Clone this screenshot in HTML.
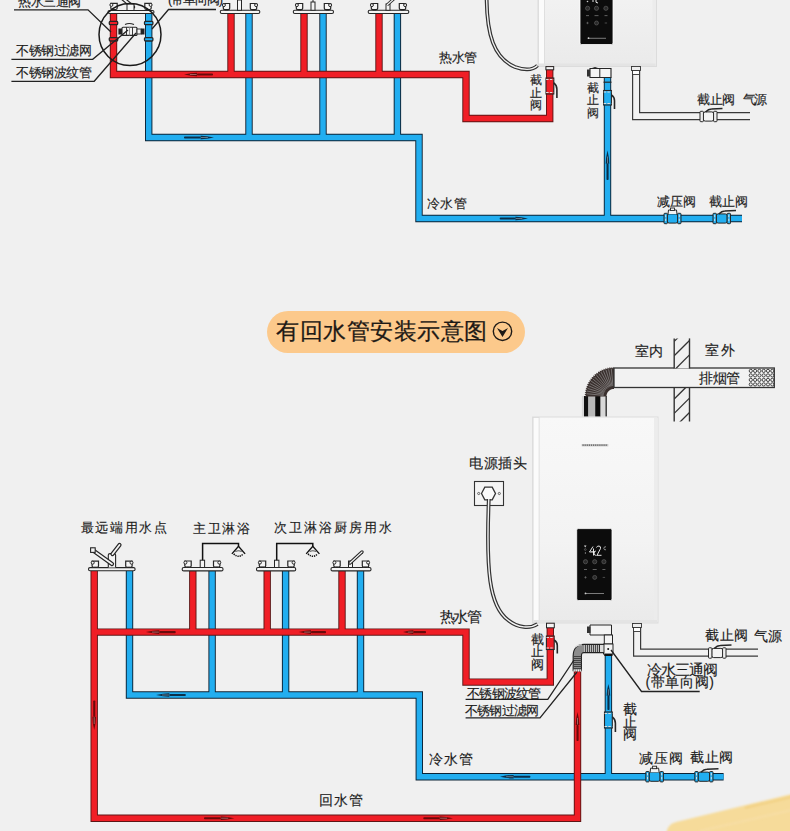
<!DOCTYPE html><html><head><meta charset="utf-8"><style>html,body{margin:0;padding:0;background:#f0f0f0;}svg{display:block;font-family:"Liberation Sans",sans-serif;}</style></head><body><svg width="790" height="831" viewBox="0 0 790 831" font-family="Liberation Sans, sans-serif">
<rect width="790" height="831" fill="#f0f0f0"/>
<defs><linearGradient id="hg" x1="0" x2="0" y1="0" y2="1"><stop offset="0" stop-color="#f8f8f8"/><stop offset="0.6" stop-color="#f3f3f3"/><stop offset="1" stop-color="#eaeaea"/></linearGradient></defs>
<rect x="538.0" y="-140.0" width="118.5" height="206.5" fill="url(#hg)" stroke="#dcdcdc" stroke-width="1"/>
<rect x="538.5" y="-139.5" width="6.0" height="205.5" fill="#fbfbfb" stroke="#d9d9d9" stroke-width="0.8"/>
<rect x="652.5" y="-139.0" width="3.5" height="204.5" fill="#ececec"/>
<rect x="539.0" y="63.5" width="116.5" height="2.5" fill="#e4e4e4"/>
<rect x="580.0" y="-20.0" width="33.0" height="64.5" rx="1.5" fill="#0c0c0c" stroke="#ffffff" stroke-width="0.8"/>
<circle cx="587.6" cy="8.3" r="2.1" fill="#2a2a2a" stroke="#666" stroke-width="0.6"/>
<circle cx="596.5" cy="8.3" r="2.1" fill="#2a2a2a" stroke="#666" stroke-width="0.6"/>
<circle cx="605.9" cy="8.3" r="2.1" fill="#2a2a2a" stroke="#666" stroke-width="0.6"/>
<rect x="586" y="15.3" width="3" height="0.8" fill="#777"/><rect x="594.5" y="15.3" width="4" height="0.8" fill="#777"/><rect x="604.5" y="15.3" width="3" height="0.8" fill="#777"/>
<circle cx="596.5" cy="23" r="2" fill="#2a2a2a" stroke="#666" stroke-width="0.6"/>
<path d="M586.3,23 L588.7,23 M587.5,21.8 L587.5,24.2 M604.7,23 L607.1,23" stroke="#777" stroke-width="0.6"/>
<rect x="588" y="37.8" width="18" height="0.9" fill="#888"/><circle cx="588.5" cy="38.2" r="0.9" fill="#ccc"/>
<path d="M593,-1 L593,2 M596,0 Q595,3 598,3" fill="none" stroke="#fff" stroke-width="0.9"/>
<circle cx="587.5" cy="1.5" r="0.8" fill="#ccc"/>
<rect x="532.6" y="417.0" width="125.4" height="206.0" fill="url(#hg)" stroke="#dcdcdc" stroke-width="1"/>
<rect x="533.1" y="417.5" width="6.0" height="205.0" fill="#fbfbfb" stroke="#d9d9d9" stroke-width="0.8"/>
<rect x="654.0" y="418.0" width="3.5" height="204.0" fill="#ececec"/>
<rect x="533.6" y="620.0" width="123.4" height="2.5" fill="#e4e4e4"/>
<rect x="576.7" y="528.6" width="35.3" height="71.9" rx="1.5" fill="#0c0c0c" stroke="#ffffff" stroke-width="0.8"/>
<rect x="581.7" y="444" width="26.6" height="2.4" fill="#c8c8c8"/>
<path d="M582.5,445.2 L607.5,445.2" stroke="#555" stroke-width="1.3" stroke-dasharray="1.2,0.9"/>
<path d="M593,546.5 L589.5,552 L595,552 M593.5,548.5 L593.5,555.5" fill="none" stroke="#fff" stroke-width="0.9"/>
<path d="M596.5,547.5 Q597,546 599,546 Q601,546.3 600.5,548.5 L597,555.3 L601.5,555.3" fill="none" stroke="#fff" stroke-width="0.9"/>
<path d="M606,546.8 Q604,546.3 603.8,548.3 Q604,550.2 606,549.8" fill="none" stroke="#ddd" stroke-width="0.6"/>
<path d="M591.5,551.5 L592.5,551.5 M596,551 Q594,551 594,553 Q594,555.5 596.5,555.5" fill="none" stroke="#fff" stroke-width="0.8"/>
<path d="M584,545.5 L586.5,545.5 L585.2,547.5 Z" fill="#ddd"/><circle cx="585.3" cy="549.5" r="0.9" fill="none" stroke="#888" stroke-width="0.5"/><rect x="584.9" y="552" width="0.8" height="2" fill="#888"/>
<circle cx="585.5" cy="561.7" r="2.1" fill="#2a2a2a" stroke="#666" stroke-width="0.6"/>
<circle cx="594.7" cy="561.7" r="2.1" fill="#2a2a2a" stroke="#666" stroke-width="0.6"/>
<circle cx="603.9" cy="561.7" r="2.1" fill="#2a2a2a" stroke="#666" stroke-width="0.6"/>
<rect x="584" y="569.2" width="3" height="0.8" fill="#777"/><rect x="592.7" y="569.2" width="4" height="0.8" fill="#777"/><rect x="602.4" y="569.2" width="3" height="0.8" fill="#777"/>
<circle cx="594.7" cy="577.4" r="2" fill="#2a2a2a" stroke="#666" stroke-width="0.6"/>
<path d="M584.3,577.4 L586.7,577.4 M585.5,576.2 L585.5,578.6 M602.7,577.4 L605.1,577.4" stroke="#777" stroke-width="0.6"/>
<rect x="585" y="593" width="19" height="0.9" fill="#888"/><circle cx="585.5" cy="593.4" r="0.9" fill="#ccc"/>
<rect x="581.9" y="396" width="2.1" height="20.4" fill="#d8d8d8"/>
<rect x="584.0" y="396" width="4.4" height="20.4" fill="#111"/>
<rect x="588.4" y="396" width="6.8" height="20.4" fill="#b8b8b8"/>
<rect x="595.2" y="396" width="5.4" height="20.4" fill="#0a0a0a"/>
<rect x="600.6" y="396" width="4.8" height="20.4" fill="#d8d8d8"/>
<rect x="605.4" y="396" width="1.6" height="20.4" fill="#444"/>
<path d="M584.40,396.40 L586.02,395.40 L584.48,394.29 L586.16,393.41 L584.70,392.19 L586.44,391.43 L585.08,390.11 L586.87,389.48 L585.60,388.06 L587.43,387.56 L586.27,386.06 L588.13,385.68 L587.07,384.10 L588.96,383.87 L588.02,382.21 L589.92,382.11 L589.10,380.40 L591.00,380.43 L590.30,378.66 L592.20,378.83 L591.63,377.02 L593.51,377.32 L593.07,375.47 L594.92,375.91 L594.62,374.03 L596.43,374.60 L596.26,372.70 L598.03,373.40 L598.00,371.50 L599.71,372.32 L599.81,370.42 L601.47,371.36 L601.70,369.47 L603.28,370.53 L603.66,368.67 L605.16,369.83 L605.66,368.00 L607.08,369.27 L607.71,367.48 L609.03,368.84 L609.79,367.10 L611.01,368.56 L611.89,366.88 L613.00,368.42 L614.00,366.80 L614.00,388.90 L613.73,388.90 L613.46,388.92 L613.20,388.94 L612.93,388.98 L612.67,389.02 L612.41,389.07 L612.15,389.13 L611.89,389.20 L611.63,389.28 L611.38,389.37 L611.13,389.47 L610.88,389.58 L610.64,389.69 L610.41,389.82 L610.17,389.95 L609.95,390.09 L609.72,390.24 L609.51,390.40 L609.29,390.56 L609.09,390.73 L608.89,390.91 L608.70,391.10 L608.51,391.29 L608.33,391.49 L608.16,391.69 L608.00,391.91 L607.84,392.12 L607.69,392.35 L607.55,392.57 L607.42,392.81 L607.29,393.04 L607.18,393.28 L607.07,393.53 L606.97,393.78 L606.88,394.03 L606.80,394.29 L606.73,394.55 L606.67,394.81 L606.62,395.07 L606.58,395.33 L606.54,395.60 L606.52,395.86 L606.50,396.13 L606.50,396.40 Z" fill="#3a302e"/>
<line x1="603.6" y1="395.4" x2="586.5" y2="393.7" stroke="#a0a0a0" stroke-width="0.6"/>
<line x1="603.7" y1="394.4" x2="586.9" y2="391.0" stroke="#a0a0a0" stroke-width="0.6"/>
<line x1="604.0" y1="393.4" x2="587.6" y2="388.4" stroke="#a0a0a0" stroke-width="0.6"/>
<line x1="604.3" y1="392.4" x2="588.5" y2="385.8" stroke="#a0a0a0" stroke-width="0.6"/>
<line x1="604.7" y1="391.5" x2="589.7" y2="383.4" stroke="#a0a0a0" stroke-width="0.6"/>
<line x1="605.3" y1="390.6" x2="591.1" y2="381.1" stroke="#a0a0a0" stroke-width="0.6"/>
<line x1="605.9" y1="389.7" x2="592.7" y2="378.9" stroke="#a0a0a0" stroke-width="0.6"/>
<line x1="606.6" y1="389.0" x2="594.5" y2="376.9" stroke="#a0a0a0" stroke-width="0.6"/>
<line x1="607.3" y1="388.3" x2="596.5" y2="375.1" stroke="#a0a0a0" stroke-width="0.6"/>
<line x1="608.2" y1="387.7" x2="598.7" y2="373.5" stroke="#a0a0a0" stroke-width="0.6"/>
<line x1="609.1" y1="387.1" x2="601.0" y2="372.1" stroke="#a0a0a0" stroke-width="0.6"/>
<line x1="610.0" y1="386.7" x2="603.4" y2="370.9" stroke="#a0a0a0" stroke-width="0.6"/>
<line x1="611.0" y1="386.4" x2="606.0" y2="370.0" stroke="#a0a0a0" stroke-width="0.6"/>
<line x1="612.0" y1="386.1" x2="608.6" y2="369.3" stroke="#a0a0a0" stroke-width="0.6"/>
<line x1="613.0" y1="386.0" x2="611.3" y2="368.9" stroke="#a0a0a0" stroke-width="0.6"/>
<rect x="614" y="368" width="160.3" height="19.5" fill="#f2f2f2" stroke="#333" stroke-width="1.3"/>
<circle cx="750.8" cy="370.9" r="1.6" fill="none" stroke="#333" stroke-width="0.9"/>
<circle cx="755.1" cy="370.9" r="1.6" fill="none" stroke="#333" stroke-width="0.9"/>
<circle cx="759.4" cy="370.9" r="1.6" fill="none" stroke="#333" stroke-width="0.9"/>
<circle cx="763.7" cy="370.9" r="1.6" fill="none" stroke="#333" stroke-width="0.9"/>
<circle cx="768.0" cy="370.9" r="1.6" fill="none" stroke="#333" stroke-width="0.9"/>
<circle cx="772.3" cy="370.9" r="1.6" fill="none" stroke="#333" stroke-width="0.9"/>
<circle cx="750.8" cy="375.4" r="1.6" fill="none" stroke="#333" stroke-width="0.9"/>
<circle cx="755.1" cy="375.4" r="1.6" fill="none" stroke="#333" stroke-width="0.9"/>
<circle cx="759.4" cy="375.4" r="1.6" fill="none" stroke="#333" stroke-width="0.9"/>
<circle cx="763.7" cy="375.4" r="1.6" fill="none" stroke="#333" stroke-width="0.9"/>
<circle cx="768.0" cy="375.4" r="1.6" fill="none" stroke="#333" stroke-width="0.9"/>
<circle cx="772.3" cy="375.4" r="1.6" fill="none" stroke="#333" stroke-width="0.9"/>
<circle cx="750.8" cy="379.9" r="1.6" fill="none" stroke="#333" stroke-width="0.9"/>
<circle cx="755.1" cy="379.9" r="1.6" fill="none" stroke="#333" stroke-width="0.9"/>
<circle cx="759.4" cy="379.9" r="1.6" fill="none" stroke="#333" stroke-width="0.9"/>
<circle cx="763.7" cy="379.9" r="1.6" fill="none" stroke="#333" stroke-width="0.9"/>
<circle cx="768.0" cy="379.9" r="1.6" fill="none" stroke="#333" stroke-width="0.9"/>
<circle cx="772.3" cy="379.9" r="1.6" fill="none" stroke="#333" stroke-width="0.9"/>
<circle cx="750.8" cy="384.4" r="1.6" fill="none" stroke="#333" stroke-width="0.9"/>
<circle cx="755.1" cy="384.4" r="1.6" fill="none" stroke="#333" stroke-width="0.9"/>
<circle cx="759.4" cy="384.4" r="1.6" fill="none" stroke="#333" stroke-width="0.9"/>
<circle cx="763.7" cy="384.4" r="1.6" fill="none" stroke="#333" stroke-width="0.9"/>
<circle cx="768.0" cy="384.4" r="1.6" fill="none" stroke="#333" stroke-width="0.9"/>
<circle cx="772.3" cy="384.4" r="1.6" fill="none" stroke="#333" stroke-width="0.9"/>
<rect x="674.2" y="338.4" width="15.3" height="30" fill="#f0f0f0"/>
<line x1="674.2" y1="338.4" x2="674.2" y2="368.5" stroke="#333" stroke-width="1.4"/><line x1="689.5" y1="338.4" x2="689.5" y2="368.5" stroke="#333" stroke-width="1.4"/>
<line x1="674.2" y1="388" x2="674.2" y2="421.5" stroke="#333" stroke-width="1.4"/><line x1="689.5" y1="388" x2="689.5" y2="421.5" stroke="#333" stroke-width="1.4"/>
<clipPath id="w1"><rect x="674.2" y="338.4" width="15.3" height="30"/><rect x="674.2" y="388" width="15.3" height="33.5"/></clipPath>
<g clip-path="url(#w1)">
<line x1="674.2" y1="327.0" x2="689.5" y2="311.7" stroke="#333" stroke-width="1.3"/>
<line x1="674.2" y1="341.4" x2="689.5" y2="326.1" stroke="#333" stroke-width="1.3"/>
<line x1="674.2" y1="355.8" x2="689.5" y2="340.5" stroke="#333" stroke-width="1.3"/>
<line x1="674.2" y1="370.2" x2="689.5" y2="354.9" stroke="#333" stroke-width="1.3"/>
<line x1="674.2" y1="384.6" x2="689.5" y2="369.3" stroke="#333" stroke-width="1.3"/>
<line x1="674.2" y1="399.0" x2="689.5" y2="383.7" stroke="#333" stroke-width="1.3"/>
<line x1="674.2" y1="413.4" x2="689.5" y2="398.1" stroke="#333" stroke-width="1.3"/>
<line x1="674.2" y1="427.8" x2="689.5" y2="412.5" stroke="#333" stroke-width="1.3"/>
<line x1="674.2" y1="442.2" x2="689.5" y2="426.9" stroke="#333" stroke-width="1.3"/>
</g>
<rect x="474.5" y="481.5" width="29" height="24" fill="#f4f4f4" stroke="#333" stroke-width="1.1"/>
<path d="M481.5,493.5 L484.8,487.2 L492.2,487.2 L495.5,493.5 L492.2,499.8 L484.8,499.8 Z" fill="#fafafa" stroke="#333" stroke-width="1.3"/>
<circle cx="478.7" cy="493.5" r="1.1" fill="none" stroke="#333" stroke-width="0.7"/><circle cx="499.3" cy="493.5" r="1.1" fill="none" stroke="#333" stroke-width="0.7"/>
<path d="M488.8,499 C486,570 489,606 508,620 C518,628 530,629 537.5,624" fill="none" stroke="#333" stroke-width="3.8"/>
<path d="M488.8,499 C486,570 489,606 508,620 C518,628 530,629 537.5,624" fill="none" stroke="#f4f4f4" stroke-width="1.4"/>
<path d="M486.6,-5 C486.5,35 494,58 515,67 C525,70.5 533,70 537.5,65.5" fill="none" stroke="#333" stroke-width="3.8"/>
<path d="M486.6,-5 C486.5,35 494,58 515,67 C525,70.5 533,70 537.5,65.5" fill="none" stroke="#f4f4f4" stroke-width="1.4"/>
<path d="M636.1,66 L636.1,116.2 L750,116.2" fill="none" stroke="#3a3a3a" stroke-width="8.2" stroke-linejoin="miter"/>
<path d="M636.1,66 L636.1,116.2 L750,116.2" fill="none" stroke="#f2f2f2" stroke-width="5.799999999999999" stroke-linejoin="miter"/>
<rect x="631.5" y="66.5" width="9" height="4" fill="#eee" stroke="#333" stroke-width="0.9"/>
<rect x="632.5" y="70.5" width="7" height="4" fill="#fff" stroke="#333" stroke-width="0.9"/>
<rect x="703.2" y="111.9" width="10.6" height="9.2" rx="2" fill="#f4f4f4" stroke="#262626" stroke-width="1"/>
<rect x="700.0" y="111.3" width="3.4" height="10.4" rx="0.8" fill="#f4f4f4" stroke="#262626" stroke-width="1"/>
<line x1="701.7" y1="112.7" x2="701.7" y2="120.3" stroke="#e8e8e8" stroke-width="0.9" stroke-dasharray="2.5,1.5"/>
<rect x="713.6" y="111.3" width="3.4" height="10.4" rx="0.8" fill="#f4f4f4" stroke="#262626" stroke-width="1"/>
<line x1="715.3" y1="112.7" x2="715.3" y2="120.3" stroke="#e8e8e8" stroke-width="0.9" stroke-dasharray="2.5,1.5"/>
<path d="M705.5,112.0 Q708.5,109.0 711.5,109.0 L722.5,108.5" fill="none" stroke="#262626" stroke-width="1.6"/>
<path d="M637.1,623 L637.1,652.6999999999999 L758,652.6999999999999" fill="none" stroke="#3a3a3a" stroke-width="8.2" stroke-linejoin="miter"/>
<path d="M637.1,623 L637.1,652.6999999999999 L758,652.6999999999999" fill="none" stroke="#f2f2f2" stroke-width="5.799999999999999" stroke-linejoin="miter"/>
<rect x="632.5" y="623.5" width="9" height="4" fill="#eee" stroke="#333" stroke-width="0.9"/>
<rect x="633.5" y="627.5" width="7" height="4" fill="#fff" stroke="#333" stroke-width="0.9"/>
<rect x="711.7" y="648.4" width="11.1" height="9.2" rx="2" fill="#f4f4f4" stroke="#262626" stroke-width="1"/>
<rect x="708.5" y="647.8" width="3.4" height="10.4" rx="0.8" fill="#f4f4f4" stroke="#262626" stroke-width="1"/>
<line x1="710.2" y1="649.2" x2="710.2" y2="656.8" stroke="#e8e8e8" stroke-width="0.9" stroke-dasharray="2.5,1.5"/>
<rect x="722.6" y="647.8" width="3.4" height="10.4" rx="0.8" fill="#f4f4f4" stroke="#262626" stroke-width="1"/>
<line x1="724.3" y1="649.2" x2="724.3" y2="656.8" stroke="#e8e8e8" stroke-width="0.9" stroke-dasharray="2.5,1.5"/>
<path d="M714.2,648.5 Q717.2,645.5 720.2,645.5 L731.5,645.0" fill="none" stroke="#262626" stroke-width="1.6"/>
<path d="M148.7,12 L148.7,137.5 L419,137.5 L419,218.5 L742,218.5" fill="none" stroke="#0c2234" stroke-width="7.4" stroke-linejoin="miter" stroke-linecap="butt"/>
<path d="M249,13 L249,137.5" fill="none" stroke="#0c2234" stroke-width="7.4" stroke-linejoin="miter" stroke-linecap="butt"/>
<path d="M323,13 L323,137.5" fill="none" stroke="#0c2234" stroke-width="7.4" stroke-linejoin="miter" stroke-linecap="butt"/>
<path d="M397.4,13 L397.4,137.5" fill="none" stroke="#0c2234" stroke-width="7.4" stroke-linejoin="miter" stroke-linecap="butt"/>
<path d="M607.5,77 L607.5,218.5" fill="none" stroke="#0c2234" stroke-width="7.4" stroke-linejoin="miter" stroke-linecap="butt"/>
<path d="M148.7,12 L148.7,137.5 L419,137.5 L419,218.5 L742,218.5" fill="none" stroke="#22aef0" stroke-width="5.5" stroke-linejoin="miter" stroke-linecap="butt"/>
<path d="M249,13 L249,137.5" fill="none" stroke="#22aef0" stroke-width="5.5" stroke-linejoin="miter" stroke-linecap="butt"/>
<path d="M323,13 L323,137.5" fill="none" stroke="#22aef0" stroke-width="5.5" stroke-linejoin="miter" stroke-linecap="butt"/>
<path d="M397.4,13 L397.4,137.5" fill="none" stroke="#22aef0" stroke-width="5.5" stroke-linejoin="miter" stroke-linecap="butt"/>
<path d="M607.5,77 L607.5,218.5" fill="none" stroke="#22aef0" stroke-width="5.5" stroke-linejoin="miter" stroke-linecap="butt"/>
<path d="M113.5,12 L113.5,74.5 L466,74.5 L466,118.5 L549.7,118.5 L549.7,66" fill="none" stroke="#5e1616" stroke-width="7.4" stroke-linejoin="miter" stroke-linecap="butt"/>
<path d="M231,13 L231,74.5" fill="none" stroke="#5e1616" stroke-width="7.4" stroke-linejoin="miter" stroke-linecap="butt"/>
<path d="M304,13 L304,74.5" fill="none" stroke="#5e1616" stroke-width="7.4" stroke-linejoin="miter" stroke-linecap="butt"/>
<path d="M379,13 L379,74.5" fill="none" stroke="#5e1616" stroke-width="7.4" stroke-linejoin="miter" stroke-linecap="butt"/>
<path d="M113.5,12 L113.5,74.5 L466,74.5 L466,118.5 L549.7,118.5 L549.7,66" fill="none" stroke="#f01e26" stroke-width="5.5" stroke-linejoin="miter" stroke-linecap="butt"/>
<path d="M231,13 L231,74.5" fill="none" stroke="#f01e26" stroke-width="5.5" stroke-linejoin="miter" stroke-linecap="butt"/>
<path d="M304,13 L304,74.5" fill="none" stroke="#f01e26" stroke-width="5.5" stroke-linejoin="miter" stroke-linecap="butt"/>
<path d="M379,13 L379,74.5" fill="none" stroke="#f01e26" stroke-width="5.5" stroke-linejoin="miter" stroke-linecap="butt"/>
<path d="M184.0,74.5 Q191.8,72.6 197.1,72.7 L197.1,76.3 Q191.8,76.4 184.0,74.5 Z" fill="#6a0a0a"/>
<path d="M189.9,74.5 L196.6,74.5" stroke="#ffffff" stroke-opacity="0.45" stroke-width="0.8"/>
<rect x="197.1" y="73.5" width="15.9" height="2.1" rx="0.8" fill="#6a0a0a"/>
<path d="M214.0,137.5 Q205.9,135.6 200.5,135.7 L200.5,139.3 Q205.9,139.4 214.0,137.5 Z" fill="#0a2f4a"/>
<path d="M207.9,137.5 L201.0,137.5" stroke="#ffffff" stroke-opacity="0.45" stroke-width="0.8"/>
<rect x="184.0" y="136.4" width="16.5" height="2.1" rx="0.8" fill="#0a2f4a"/>
<path d="M528.0,218.5 Q520.4,216.6 515.3,216.7 L515.3,220.3 Q520.4,220.4 528.0,218.5 Z" fill="#0a2f4a"/>
<path d="M522.3,218.5 L515.8,218.5" stroke="#ffffff" stroke-opacity="0.45" stroke-width="0.8"/>
<rect x="499.7" y="217.4" width="15.6" height="2.1" rx="0.8" fill="#0a2f4a"/>
<path d="M607.5,150.5 Q605.6,158.5 605.7,163.8 L609.3,163.8 Q609.4,158.5 607.5,150.5 Z" fill="#0a2f4a"/>
<path d="M607.5,156.5 L607.5,163.3" stroke="#ffffff" stroke-opacity="0.45" stroke-width="0.8"/>
<rect x="606.5" y="163.8" width="2.1" height="16.2" rx="0.8" fill="#0a2f4a"/>
<rect x="108.0" y="10.5" width="46.0" height="3.0" rx="1.5" fill="#f4f4f4" stroke="#262626" stroke-width="1.1"/>
<rect x="220.3" y="10.3" width="39.5" height="3.2" rx="1.5" fill="#f4f4f4" stroke="#262626" stroke-width="1.1"/>
<rect x="293.3" y="10.3" width="40.2" height="3.2" rx="1.5" fill="#f4f4f4" stroke="#262626" stroke-width="1.1"/>
<rect x="368.2" y="10.3" width="40.6" height="3.2" rx="1.5" fill="#f4f4f4" stroke="#262626" stroke-width="1.1"/>
<g transform="translate(110.0,2.5) scale(1,1)">
<path d="M0.8,0.8 L7.2,0.8 L7.2,5.6 Q7.2,7 5.8,7 L2.2,7 Q0.8,7 0.8,5.6 Z" fill="#f6f6f6" stroke="#262626" stroke-width="1.2"/>
<circle cx="1.4" cy="2.4" r="1.5" fill="#f6f6f6" stroke="#262626" stroke-width="1"/>
<rect x="2.5" y="6.6" width="3" height="1" fill="#262626"/>
</g>
<g transform="translate(152.0,2.5) scale(-1,1)">
<path d="M0.8,0.8 L7.2,0.8 L7.2,5.6 Q7.2,7 5.8,7 L2.2,7 Q0.8,7 0.8,5.6 Z" fill="#f6f6f6" stroke="#262626" stroke-width="1.2"/>
<circle cx="1.4" cy="2.4" r="1.5" fill="#f6f6f6" stroke="#262626" stroke-width="1"/>
<rect x="2.5" y="6.6" width="3" height="1" fill="#262626"/>
</g>
<g transform="translate(222.5,2.7) scale(1,1)">
<path d="M0.8,0.8 L7.2,0.8 L7.2,5.6 Q7.2,7 5.8,7 L2.2,7 Q0.8,7 0.8,5.6 Z" fill="#f6f6f6" stroke="#262626" stroke-width="1.2"/>
<circle cx="1.4" cy="2.4" r="1.5" fill="#f6f6f6" stroke="#262626" stroke-width="1"/>
<rect x="2.5" y="6.6" width="3" height="1" fill="#262626"/>
</g>
<g transform="translate(257.5,2.7) scale(-1,1)">
<path d="M0.8,0.8 L7.2,0.8 L7.2,5.6 Q7.2,7 5.8,7 L2.2,7 Q0.8,7 0.8,5.6 Z" fill="#f6f6f6" stroke="#262626" stroke-width="1.2"/>
<circle cx="1.4" cy="2.4" r="1.5" fill="#f6f6f6" stroke="#262626" stroke-width="1"/>
<rect x="2.5" y="6.6" width="3" height="1" fill="#262626"/>
</g>
<g transform="translate(295.5,2.7) scale(1,1)">
<path d="M0.8,0.8 L7.2,0.8 L7.2,5.6 Q7.2,7 5.8,7 L2.2,7 Q0.8,7 0.8,5.6 Z" fill="#f6f6f6" stroke="#262626" stroke-width="1.2"/>
<circle cx="1.4" cy="2.4" r="1.5" fill="#f6f6f6" stroke="#262626" stroke-width="1"/>
<rect x="2.5" y="6.6" width="3" height="1" fill="#262626"/>
</g>
<g transform="translate(331.5,2.7) scale(-1,1)">
<path d="M0.8,0.8 L7.2,0.8 L7.2,5.6 Q7.2,7 5.8,7 L2.2,7 Q0.8,7 0.8,5.6 Z" fill="#f6f6f6" stroke="#262626" stroke-width="1.2"/>
<circle cx="1.4" cy="2.4" r="1.5" fill="#f6f6f6" stroke="#262626" stroke-width="1"/>
<rect x="2.5" y="6.6" width="3" height="1" fill="#262626"/>
</g>
<g transform="translate(370.5,2.7) scale(1,1)">
<path d="M0.8,0.8 L7.2,0.8 L7.2,5.6 Q7.2,7 5.8,7 L2.2,7 Q0.8,7 0.8,5.6 Z" fill="#f6f6f6" stroke="#262626" stroke-width="1.2"/>
<circle cx="1.4" cy="2.4" r="1.5" fill="#f6f6f6" stroke="#262626" stroke-width="1"/>
<rect x="2.5" y="6.6" width="3" height="1" fill="#262626"/>
</g>
<g transform="translate(406.5,2.7) scale(-1,1)">
<path d="M0.8,0.8 L7.2,0.8 L7.2,5.6 Q7.2,7 5.8,7 L2.2,7 Q0.8,7 0.8,5.6 Z" fill="#f6f6f6" stroke="#262626" stroke-width="1.2"/>
<circle cx="1.4" cy="2.4" r="1.5" fill="#f6f6f6" stroke="#262626" stroke-width="1"/>
<rect x="2.5" y="6.6" width="3" height="1" fill="#262626"/>
</g>
<rect x="237.5" y="0" width="4" height="10.3" fill="#f4f4f4" stroke="#262626" stroke-width="1"/>
<rect x="311" y="2" width="4" height="8.3" fill="#f4f4f4" stroke="#262626" stroke-width="1"/>
<line x1="313" y1="0" x2="313" y2="2" stroke="#262626" stroke-width="1"/>
<rect x="386" y="4" width="4" height="6.3" fill="#f4f4f4" stroke="#262626" stroke-width="1"/>
<path d="M387,5 L396,-3" stroke="#262626" stroke-width="3"/>
<path d="M387,5 L396,-3" stroke="#f4f4f4" stroke-width="1.2"/>
<path d="M121,-3 L133,7" stroke="#262626" stroke-width="4.2" stroke-linecap="round"/>
<path d="M121,-3 L133,7" stroke="#f4f4f4" stroke-width="1.8"/>
<rect x="127" y="4" width="7" height="6.5" fill="#f4f4f4" stroke="#262626" stroke-width="1"/>
<circle cx="130" cy="34.5" r="31" fill="none" stroke="#1a1a1a" stroke-width="1.5"/>
<rect x="109.3" y="21.3" width="8.4" height="3.4" rx="1" fill="#f01e26" stroke="#262626" stroke-width="1.3"/>
<rect x="109.3" y="37.6" width="8.4" height="3.4" rx="1" fill="#f01e26" stroke="#262626" stroke-width="1.3"/>
<rect x="144.5" y="21.3" width="8.4" height="3.4" rx="1" fill="#22aef0" stroke="#262626" stroke-width="1.3"/>
<rect x="144.5" y="37.6" width="8.4" height="3.4" rx="1" fill="#22aef0" stroke="#262626" stroke-width="1.3"/>
<rect x="118.4" y="28.5" width="3.6" height="6" fill="#222"/>
<rect x="122" y="27.2" width="15" height="8.2" rx="1" fill="#f4f4f4" stroke="#262626" stroke-width="1.1"/>
<line x1="126.5" y1="27.2" x2="126.5" y2="35.4" stroke="#262626" stroke-width="0.9"/><line x1="129.5" y1="27.2" x2="129.5" y2="35.4" stroke="#888" stroke-width="0.9"/><line x1="132.5" y1="27.2" x2="132.5" y2="35.4" stroke="#262626" stroke-width="0.9"/>
<rect x="137" y="29" width="4" height="5" fill="#f4f4f4" stroke="#262626" stroke-width="0.9"/>
<rect x="141" y="28.5" width="3.5" height="6" fill="#222"/>
<path d="M125,24.5 Q129,22.5 134,24.5" fill="none" stroke="#262626" stroke-width="1.2"/>
<path d="M14,9.9 L88,9.9 L111,32" fill="none" stroke="#222" stroke-width="1.3"/>
<path d="M11.4,59.3 L92.7,59.3 L128,30" fill="none" stroke="#222" stroke-width="1.3"/>
<path d="M11.4,81.3 L94.2,81.3 L136,33" fill="none" stroke="#222" stroke-width="1.3"/>
<path d="M216,9.5 L168.5,9.5 L152,29" fill="none" stroke="#222" stroke-width="1.3"/>
<rect x="546.0" y="78.0" width="7.8" height="16.0" fill="#f01e26" stroke="#262626" stroke-width="1.1"/>
<line x1="546.1" y1="79.5" x2="553.7" y2="79.5" stroke="#ddd" stroke-width="1" stroke-dasharray="2.5,1.2"/>
<line x1="546.1" y1="92.5" x2="553.7" y2="92.5" stroke="#ddd" stroke-width="1" stroke-dasharray="2.5,1.2"/>
<path d="M553.8,82.8 Q556.9,85.2 556.9,89.2 L556.9,98.0" fill="none" stroke="#262626" stroke-width="1.6"/>
<rect x="545.9" y="66.6" width="7.8" height="3.2" fill="#f4f4f4" stroke="#262626" stroke-width="1"/>
<rect x="603.6" y="90.5" width="7.8" height="14.5" fill="#22aef0" stroke="#262626" stroke-width="1.1"/>
<line x1="603.7" y1="92.0" x2="611.3" y2="92.0" stroke="#ddd" stroke-width="1" stroke-dasharray="2.5,1.2"/>
<line x1="603.7" y1="103.5" x2="611.3" y2="103.5" stroke="#ddd" stroke-width="1" stroke-dasharray="2.5,1.2"/>
<path d="M611.4,94.8 Q614.5,97.0 614.5,100.7 L614.5,109.0" fill="none" stroke="#262626" stroke-width="1.6"/>
<rect x="667.2" y="213.9" width="10.6" height="9.2" rx="2" fill="#22aef0" stroke="#262626" stroke-width="1"/>
<rect x="664.0" y="213.3" width="3.4" height="10.4" rx="0.8" fill="#22aef0" stroke="#262626" stroke-width="1"/>
<line x1="665.7" y1="214.7" x2="665.7" y2="222.3" stroke="#e8e8e8" stroke-width="0.9" stroke-dasharray="2.5,1.5"/>
<rect x="677.6" y="213.3" width="3.4" height="10.4" rx="0.8" fill="#22aef0" stroke="#262626" stroke-width="1"/>
<line x1="679.3" y1="214.7" x2="679.3" y2="222.3" stroke="#e8e8e8" stroke-width="0.9" stroke-dasharray="2.5,1.5"/>
<path d="M668.0,214.0 L668.5,210.0 L676.5,210.0 L677.0,214.0" fill="#f4f4f4" stroke="#262626" stroke-width="1"/>
<rect x="670.5" y="208.0" width="4" height="2.5" fill="#f4f4f4" stroke="#262626" stroke-width="0.9"/>
<rect x="716.2" y="213.9" width="11.1" height="9.2" rx="2" fill="#22aef0" stroke="#262626" stroke-width="1"/>
<rect x="713.0" y="213.3" width="3.4" height="10.4" rx="0.8" fill="#22aef0" stroke="#262626" stroke-width="1"/>
<line x1="714.7" y1="214.7" x2="714.7" y2="222.3" stroke="#e8e8e8" stroke-width="0.9" stroke-dasharray="2.5,1.5"/>
<rect x="727.1" y="213.3" width="3.4" height="10.4" rx="0.8" fill="#22aef0" stroke="#262626" stroke-width="1"/>
<line x1="728.8" y1="214.7" x2="728.8" y2="222.3" stroke="#e8e8e8" stroke-width="0.9" stroke-dasharray="2.5,1.5"/>
<path d="M718.8,214.0 Q721.8,211.0 724.8,211.0 L736.0,210.5" fill="none" stroke="#262626" stroke-width="1.6"/>
<path d="M590,68.5 L611,68.5 L611,77.5 L590,77.5 Z" fill="#f4f4f4" stroke="#262626" stroke-width="1.1"/>
<line x1="599.8" y1="68.5" x2="599.8" y2="77.5" stroke="#262626" stroke-width="1"/>
<path d="M592,68.5 Q595,66.5 598,68.5" fill="none" stroke="#262626" stroke-width="1"/>
<rect x="587" y="69.5" width="3" height="7" fill="#333"/>
<line x1="603.5" y1="82.2" x2="611.5" y2="82.2" stroke="#262626" stroke-width="1.2"/>
<path d="M129.5,571 L129.5,695 L419.3,695 L419.3,776.7 L723.6,776.7" fill="none" stroke="#0c2234" stroke-width="7.4" stroke-linejoin="miter" stroke-linecap="butt"/>
<path d="M212.1,571 L212.1,695" fill="none" stroke="#0c2234" stroke-width="7.4" stroke-linejoin="miter" stroke-linecap="butt"/>
<path d="M285.6,571 L285.6,695" fill="none" stroke="#0c2234" stroke-width="7.4" stroke-linejoin="miter" stroke-linecap="butt"/>
<path d="M360.5,571 L360.5,695" fill="none" stroke="#0c2234" stroke-width="7.4" stroke-linejoin="miter" stroke-linecap="butt"/>
<path d="M608.4,655 L608.4,776.7" fill="none" stroke="#0c2234" stroke-width="7.4" stroke-linejoin="miter" stroke-linecap="butt"/>
<path d="M129.5,571 L129.5,695 L419.3,695 L419.3,776.7 L723.6,776.7" fill="none" stroke="#22aef0" stroke-width="5.5" stroke-linejoin="miter" stroke-linecap="butt"/>
<path d="M212.1,571 L212.1,695" fill="none" stroke="#22aef0" stroke-width="5.5" stroke-linejoin="miter" stroke-linecap="butt"/>
<path d="M285.6,571 L285.6,695" fill="none" stroke="#22aef0" stroke-width="5.5" stroke-linejoin="miter" stroke-linecap="butt"/>
<path d="M360.5,571 L360.5,695" fill="none" stroke="#22aef0" stroke-width="5.5" stroke-linejoin="miter" stroke-linecap="butt"/>
<path d="M608.4,655 L608.4,776.7" fill="none" stroke="#22aef0" stroke-width="5.5" stroke-linejoin="miter" stroke-linecap="butt"/>
<path d="M94.2,571 L94.2,818.2 L577.5,818.2 L577.5,671.3" fill="none" stroke="#5e1616" stroke-width="7.4" stroke-linejoin="miter" stroke-linecap="butt"/>
<path d="M94.2,632.1 L466,632.1 L466,682.1 L550.3,682.1 L550.3,623" fill="none" stroke="#5e1616" stroke-width="7.4" stroke-linejoin="miter" stroke-linecap="butt"/>
<path d="M192.8,571 L192.8,632.1" fill="none" stroke="#5e1616" stroke-width="7.4" stroke-linejoin="miter" stroke-linecap="butt"/>
<path d="M267.2,571 L267.2,632.1" fill="none" stroke="#5e1616" stroke-width="7.4" stroke-linejoin="miter" stroke-linecap="butt"/>
<path d="M342,571 L342,632.1" fill="none" stroke="#5e1616" stroke-width="7.4" stroke-linejoin="miter" stroke-linecap="butt"/>
<path d="M94.2,571 L94.2,818.2 L577.5,818.2 L577.5,671.3" fill="none" stroke="#f01e26" stroke-width="5.5" stroke-linejoin="miter" stroke-linecap="butt"/>
<path d="M94.2,632.1 L466,632.1 L466,682.1 L550.3,682.1 L550.3,623" fill="none" stroke="#f01e26" stroke-width="5.5" stroke-linejoin="miter" stroke-linecap="butt"/>
<path d="M192.8,571 L192.8,632.1" fill="none" stroke="#f01e26" stroke-width="5.5" stroke-linejoin="miter" stroke-linecap="butt"/>
<path d="M267.2,571 L267.2,632.1" fill="none" stroke="#f01e26" stroke-width="5.5" stroke-linejoin="miter" stroke-linecap="butt"/>
<path d="M342,571 L342,632.1" fill="none" stroke="#f01e26" stroke-width="5.5" stroke-linejoin="miter" stroke-linecap="butt"/>
<path d="M145.8,632.1 Q153.9,630.2 159.3,630.3 L159.3,633.9 Q153.9,634.0 145.8,632.1 Z" fill="#6a0a0a"/>
<path d="M151.9,632.1 L158.8,632.1" stroke="#ffffff" stroke-opacity="0.45" stroke-width="0.8"/>
<rect x="159.3" y="631.1" width="16.4" height="2.1" rx="0.8" fill="#6a0a0a"/>
<path d="M298.7,632.1 Q306.1,630.2 311.0,630.3 L311.0,633.9 Q306.1,634.0 298.7,632.1 Z" fill="#6a0a0a"/>
<path d="M304.2,632.1 L310.5,632.1" stroke="#ffffff" stroke-opacity="0.45" stroke-width="0.8"/>
<rect x="311.0" y="631.1" width="15.0" height="2.1" rx="0.8" fill="#6a0a0a"/>
<path d="M403.0,632.1 Q409.2,630.2 413.4,630.3 L413.4,633.9 Q409.2,634.0 403.0,632.1 Z" fill="#6a0a0a"/>
<path d="M407.7,632.1 L412.9,632.1" stroke="#ffffff" stroke-opacity="0.45" stroke-width="0.8"/>
<rect x="413.4" y="631.1" width="12.6" height="2.1" rx="0.8" fill="#6a0a0a"/>
<path d="M156.0,695.0 Q164.0,693.1 169.4,693.2 L169.4,696.8 Q164.0,696.9 156.0,695.0 Z" fill="#0a2f4a"/>
<path d="M162.0,695.0 L168.9,695.0" stroke="#ffffff" stroke-opacity="0.45" stroke-width="0.8"/>
<rect x="169.4" y="694.0" width="16.4" height="2.1" rx="0.8" fill="#0a2f4a"/>
<path d="M500.0,776.7 Q508.2,774.8 513.7,774.9 L513.7,778.5 Q508.2,778.6 500.0,776.7 Z" fill="#0a2f4a"/>
<path d="M506.2,776.7 L513.2,776.7" stroke="#ffffff" stroke-opacity="0.45" stroke-width="0.8"/>
<rect x="513.7" y="775.7" width="16.7" height="2.1" rx="0.8" fill="#0a2f4a"/>
<path d="M234.4,818.2 Q226.2,816.3 220.7,816.4 L220.7,820.0 Q226.2,820.1 234.4,818.2 Z" fill="#6a0a0a"/>
<path d="M228.2,818.2 L221.2,818.2" stroke="#ffffff" stroke-opacity="0.45" stroke-width="0.8"/>
<rect x="204.0" y="817.2" width="16.7" height="2.1" rx="0.8" fill="#6a0a0a"/>
<path d="M453.0,818.2 Q445.0,816.3 439.6,816.4 L439.6,820.0 Q445.0,820.1 453.0,818.2 Z" fill="#6a0a0a"/>
<path d="M447.0,818.2 L440.1,818.2" stroke="#ffffff" stroke-opacity="0.45" stroke-width="0.8"/>
<rect x="423.3" y="817.2" width="16.3" height="2.1" rx="0.8" fill="#6a0a0a"/>
<path d="M94.2,730.0 Q92.3,722.0 92.4,716.7 L96.0,716.7 Q96.1,722.0 94.2,730.0 Z" fill="#6a0a0a"/>
<path d="M94.2,724.0 L94.2,717.2" stroke="#ffffff" stroke-opacity="0.45" stroke-width="0.8"/>
<rect x="93.2" y="700.5" width="2.1" height="16.2" rx="0.8" fill="#6a0a0a"/>
<path d="M577.5,712.0 Q575.6,719.8 575.7,725.0 L579.3,725.0 Q579.4,719.8 577.5,712.0 Z" fill="#6a0a0a"/>
<path d="M577.5,717.9 L577.5,724.5" stroke="#ffffff" stroke-opacity="0.45" stroke-width="0.8"/>
<rect x="576.5" y="725.0" width="2.1" height="16.0" rx="0.8" fill="#6a0a0a"/>
<path d="M608.4,684.0 Q606.5,691.0 606.6,695.7 L610.2,695.7 Q610.3,691.0 608.4,684.0 Z" fill="#0a2f4a"/>
<path d="M608.4,689.3 L608.4,695.2" stroke="#ffffff" stroke-opacity="0.45" stroke-width="0.8"/>
<rect x="607.4" y="695.7" width="2.1" height="14.3" rx="0.8" fill="#0a2f4a"/>
<rect x="88.5" y="567.6" width="46.6" height="3.2" rx="1.5" fill="#f4f4f4" stroke="#262626" stroke-width="1.1"/>
<rect x="182.2" y="567.5" width="40.8" height="3.4" rx="1.5" fill="#f4f4f4" stroke="#262626" stroke-width="1.1"/>
<rect x="256.5" y="567.5" width="39.2" height="3.4" rx="1.5" fill="#f4f4f4" stroke="#262626" stroke-width="1.1"/>
<rect x="331.0" y="567.5" width="40.0" height="3.4" rx="1.5" fill="#f4f4f4" stroke="#262626" stroke-width="1.1"/>
<g transform="translate(91.3,560.3) scale(1,1)">
<path d="M0.8,0.8 L7.2,0.8 L7.2,5.6 Q7.2,7 5.8,7 L2.2,7 Q0.8,7 0.8,5.6 Z" fill="#f6f6f6" stroke="#262626" stroke-width="1.2"/>
<circle cx="1.4" cy="2.4" r="1.5" fill="#f6f6f6" stroke="#262626" stroke-width="1"/>
<rect x="2.5" y="6.6" width="3" height="1" fill="#262626"/>
</g>
<g transform="translate(132.9,560.3) scale(-1,1)">
<path d="M0.8,0.8 L7.2,0.8 L7.2,5.6 Q7.2,7 5.8,7 L2.2,7 Q0.8,7 0.8,5.6 Z" fill="#f6f6f6" stroke="#262626" stroke-width="1.2"/>
<circle cx="1.4" cy="2.4" r="1.5" fill="#f6f6f6" stroke="#262626" stroke-width="1"/>
<rect x="2.5" y="6.6" width="3" height="1" fill="#262626"/>
</g>
<g transform="translate(184.0,560.2) scale(1,1)">
<path d="M0.8,0.8 L7.2,0.8 L7.2,5.6 Q7.2,7 5.8,7 L2.2,7 Q0.8,7 0.8,5.6 Z" fill="#f6f6f6" stroke="#262626" stroke-width="1.2"/>
<circle cx="1.4" cy="2.4" r="1.5" fill="#f6f6f6" stroke="#262626" stroke-width="1"/>
<rect x="2.5" y="6.6" width="3" height="1" fill="#262626"/>
</g>
<g transform="translate(220.7,560.2) scale(-1,1)">
<path d="M0.8,0.8 L7.2,0.8 L7.2,5.6 Q7.2,7 5.8,7 L2.2,7 Q0.8,7 0.8,5.6 Z" fill="#f6f6f6" stroke="#262626" stroke-width="1.2"/>
<circle cx="1.4" cy="2.4" r="1.5" fill="#f6f6f6" stroke="#262626" stroke-width="1"/>
<rect x="2.5" y="6.6" width="3" height="1" fill="#262626"/>
</g>
<g transform="translate(258.5,560.2) scale(1,1)">
<path d="M0.8,0.8 L7.2,0.8 L7.2,5.6 Q7.2,7 5.8,7 L2.2,7 Q0.8,7 0.8,5.6 Z" fill="#f6f6f6" stroke="#262626" stroke-width="1.2"/>
<circle cx="1.4" cy="2.4" r="1.5" fill="#f6f6f6" stroke="#262626" stroke-width="1"/>
<rect x="2.5" y="6.6" width="3" height="1" fill="#262626"/>
</g>
<g transform="translate(295.0,560.2) scale(-1,1)">
<path d="M0.8,0.8 L7.2,0.8 L7.2,5.6 Q7.2,7 5.8,7 L2.2,7 Q0.8,7 0.8,5.6 Z" fill="#f6f6f6" stroke="#262626" stroke-width="1.2"/>
<circle cx="1.4" cy="2.4" r="1.5" fill="#f6f6f6" stroke="#262626" stroke-width="1"/>
<rect x="2.5" y="6.6" width="3" height="1" fill="#262626"/>
</g>
<g transform="translate(333.0,560.2) scale(1,1)">
<path d="M0.8,0.8 L7.2,0.8 L7.2,5.6 Q7.2,7 5.8,7 L2.2,7 Q0.8,7 0.8,5.6 Z" fill="#f6f6f6" stroke="#262626" stroke-width="1.2"/>
<circle cx="1.4" cy="2.4" r="1.5" fill="#f6f6f6" stroke="#262626" stroke-width="1"/>
<rect x="2.5" y="6.6" width="3" height="1" fill="#262626"/>
</g>
<g transform="translate(369.5,560.2) scale(-1,1)">
<path d="M0.8,0.8 L7.2,0.8 L7.2,5.6 Q7.2,7 5.8,7 L2.2,7 Q0.8,7 0.8,5.6 Z" fill="#f6f6f6" stroke="#262626" stroke-width="1.2"/>
<circle cx="1.4" cy="2.4" r="1.5" fill="#f6f6f6" stroke="#262626" stroke-width="1"/>
<rect x="2.5" y="6.6" width="3" height="1" fill="#262626"/>
</g>
<path d="M108.3,567.6 L108.3,555 Q108.3,553.6 110,553.6 L114,553.6 Q115.6,553.6 115.6,555 L115.6,567.6" fill="#f4f4f4" stroke="#262626" stroke-width="1.1"/>
<path d="M92.5,550 L112,564" stroke="#262626" stroke-width="4.2" stroke-linecap="round"/>
<path d="M92.5,550 L112,564" stroke="#f4f4f4" stroke-width="1.8" stroke-linecap="round"/>
<rect x="90.6" y="547.8" width="4.6" height="4.6" fill="#f4f4f4" stroke="#262626" stroke-width="1.1"/>
<path d="M112.5,554 L119.5,545" stroke="#262626" stroke-width="4.2" stroke-linecap="round"/>
<path d="M112.5,554 L119.5,545" stroke="#f4f4f4" stroke-width="1.8" stroke-linecap="round"/>
<rect x="200.2" y="560.2" width="4.4" height="7.3" fill="#f4f4f4" stroke="#262626" stroke-width="1"/>
<path d="M202.6,560.2 L202.6,543.4 L238.5,543.4 L238.5,546.5" fill="none" stroke="#111" stroke-width="1.5"/>
<path d="M231.9,553.9 L238.5,546.3 L245.1,553.9" fill="none" stroke="#111" stroke-width="1.4"/>
<path d="M235.3,551.5 Q238.5,550.1 241.7,551.5" fill="none" stroke="#555" stroke-width="1.1"/>
<path d="M233.7,553.9 Q238.5,558.7 243.3,553.9" fill="none" stroke="#111" stroke-width="1.5" stroke-dasharray="1.3,0.9"/>
<rect x="274.5" y="560.2" width="4.4" height="7.3" fill="#f4f4f4" stroke="#262626" stroke-width="1"/>
<path d="M276.7,560.2 L276.7,543.4 L312.8,543.4 L312.8,546.5" fill="none" stroke="#111" stroke-width="1.5"/>
<path d="M306.2,553.9 L312.8,546.3 L319.4,553.9" fill="none" stroke="#111" stroke-width="1.4"/>
<path d="M309.6,551.5 Q312.8,550.1 316.0,551.5" fill="none" stroke="#555" stroke-width="1.1"/>
<path d="M308.0,553.9 Q312.8,558.7 317.6,553.9" fill="none" stroke="#111" stroke-width="1.5" stroke-dasharray="1.3,0.9"/>
<rect x="348.5" y="561" width="4" height="6.5" fill="#f4f4f4" stroke="#262626" stroke-width="1"/>
<path d="M350,563 L362,552" stroke="#262626" stroke-width="3.4" stroke-linecap="round"/>
<path d="M350,563 L362,552" stroke="#f4f4f4" stroke-width="1.2" stroke-linecap="round"/>
<rect x="546.4" y="636.0" width="7.8" height="13.5" fill="#f01e26" stroke="#262626" stroke-width="1.1"/>
<line x1="546.5" y1="637.5" x2="554.1" y2="637.5" stroke="#ddd" stroke-width="1" stroke-dasharray="2.5,1.2"/>
<line x1="546.5" y1="648.0" x2="554.1" y2="648.0" stroke="#ddd" stroke-width="1" stroke-dasharray="2.5,1.2"/>
<path d="M554.2,640.0 Q557.3,642.1 557.3,645.5 L557.3,653.5" fill="none" stroke="#262626" stroke-width="1.6"/>
<rect x="546.5" y="623.2" width="7.8" height="4.6" fill="#f4f4f4" stroke="#262626" stroke-width="1"/>
<rect x="604.5" y="712.0" width="7.8" height="16.0" fill="#22aef0" stroke="#262626" stroke-width="1.1"/>
<line x1="604.6" y1="713.5" x2="612.2" y2="713.5" stroke="#ddd" stroke-width="1" stroke-dasharray="2.5,1.2"/>
<line x1="604.6" y1="726.5" x2="612.2" y2="726.5" stroke="#ddd" stroke-width="1" stroke-dasharray="2.5,1.2"/>
<path d="M612.3,716.8 Q615.4,719.2 615.4,723.2 L615.4,732.0" fill="none" stroke="#262626" stroke-width="1.6"/>
<rect x="649.0" y="772.1" width="11.2" height="9.2" rx="2" fill="#22aef0" stroke="#262626" stroke-width="1"/>
<rect x="645.8" y="771.5" width="3.4" height="10.4" rx="0.8" fill="#22aef0" stroke="#262626" stroke-width="1"/>
<line x1="647.5" y1="772.9" x2="647.5" y2="780.5" stroke="#e8e8e8" stroke-width="0.9" stroke-dasharray="2.5,1.5"/>
<rect x="660.0" y="771.5" width="3.4" height="10.4" rx="0.8" fill="#22aef0" stroke="#262626" stroke-width="1"/>
<line x1="661.7" y1="772.9" x2="661.7" y2="780.5" stroke="#e8e8e8" stroke-width="0.9" stroke-dasharray="2.5,1.5"/>
<path d="M650.1,772.2 L650.6,768.2 L658.6,768.2 L659.1,772.2" fill="#f4f4f4" stroke="#262626" stroke-width="1"/>
<rect x="652.6" y="766.2" width="4" height="2.5" fill="#f4f4f4" stroke="#262626" stroke-width="0.9"/>
<rect x="698.0" y="772.1" width="11.8" height="9.2" rx="2" fill="#22aef0" stroke="#262626" stroke-width="1"/>
<rect x="694.8" y="771.5" width="3.4" height="10.4" rx="0.8" fill="#22aef0" stroke="#262626" stroke-width="1"/>
<line x1="696.5" y1="772.9" x2="696.5" y2="780.5" stroke="#e8e8e8" stroke-width="0.9" stroke-dasharray="2.5,1.5"/>
<rect x="709.6" y="771.5" width="3.4" height="10.4" rx="0.8" fill="#22aef0" stroke="#262626" stroke-width="1"/>
<line x1="711.3" y1="772.9" x2="711.3" y2="780.5" stroke="#e8e8e8" stroke-width="0.9" stroke-dasharray="2.5,1.5"/>
<path d="M700.9,772.2 Q703.9,769.2 706.9,769.2 L718.5,768.7" fill="none" stroke="#262626" stroke-width="1.6"/>
<path d="M590,625 L611.5,625 L611.5,635 L590,635 Z" fill="#f4f4f4" stroke="#262626" stroke-width="1"/>
<rect x="587" y="626.5" width="3.5" height="6.5" fill="#333"/>
<rect x="604.3" y="635" width="8.2" height="9" fill="#f4f4f4" stroke="#262626" stroke-width="1"/>
<rect x="603.5" y="644" width="9.5" height="10" fill="#f4f4f4" stroke="#262626" stroke-width="1"/>
<circle cx="608.2" cy="649" r="1" fill="#111"/>
<rect x="604.3" y="654" width="8.2" height="2" fill="#111"/>
<path d="M603.5,648.5 L584,648.5 Q577.3,648.5 577.3,656 L577.3,671.3" fill="none" stroke="#222" stroke-width="9.4"/>
<path d="M603.5,648.5 L584,648.5 Q577.3,648.5 577.3,656 L577.3,671.3" fill="none" stroke="#8c8c8c" stroke-width="7.2"/>
<rect x="584" y="645" width="16" height="7" fill="#4a4a4a"/>
<line x1="584.5" y1="645" x2="584.5" y2="652" stroke="#c8c8c8" stroke-width="0.9"/>
<line x1="586.5" y1="645" x2="586.5" y2="652" stroke="#c8c8c8" stroke-width="0.9"/>
<line x1="588.5" y1="645" x2="588.5" y2="652" stroke="#c8c8c8" stroke-width="0.9"/>
<line x1="590.5" y1="645" x2="590.5" y2="652" stroke="#c8c8c8" stroke-width="0.9"/>
<line x1="592.5" y1="645" x2="592.5" y2="652" stroke="#c8c8c8" stroke-width="0.9"/>
<line x1="594.5" y1="645" x2="594.5" y2="652" stroke="#c8c8c8" stroke-width="0.9"/>
<line x1="596.5" y1="645" x2="596.5" y2="652" stroke="#c8c8c8" stroke-width="0.9"/>
<line x1="598.5" y1="645" x2="598.5" y2="652" stroke="#c8c8c8" stroke-width="0.9"/>
<rect x="599.5" y="644.5" width="4.5" height="8" fill="#ddd" stroke="#222" stroke-width="0.9"/>
<path d="M575,647 Q578,644.5 582,645" fill="none" stroke="#ddd" stroke-width="1.2"/>
<line x1="573.5" y1="656.5" x2="581.5" y2="656.5" stroke="#3a3a3a" stroke-width="0.9"/>
<line x1="573.5" y1="658.5" x2="581.5" y2="658.5" stroke="#3a3a3a" stroke-width="0.9"/>
<line x1="573.5" y1="660.5" x2="581.5" y2="660.5" stroke="#3a3a3a" stroke-width="0.9"/>
<line x1="573.5" y1="662.5" x2="581.5" y2="662.5" stroke="#3a3a3a" stroke-width="0.9"/>
<line x1="573.5" y1="664.5" x2="581.5" y2="664.5" stroke="#3a3a3a" stroke-width="0.9"/>
<line x1="573.5" y1="666.5" x2="581.5" y2="666.5" stroke="#3a3a3a" stroke-width="0.9"/>
<line x1="573.5" y1="668.5" x2="581.5" y2="668.5" stroke="#3a3a3a" stroke-width="0.9"/>
<path d="M573.5,670.5 L581.5,670.5" stroke="#eee" stroke-width="2" stroke-dasharray="1.2,1"/>
<path d="M465.6,699.4 L547.8,699.4 L574,660" fill="none" stroke="#222" stroke-width="1.3"/>
<path d="M465.6,717.8 L540,717.8 L577,672" fill="none" stroke="#222" stroke-width="1.3"/>
<path d="M699.7,691.5 L641.5,691.5 L611,650" fill="none" stroke="#222" stroke-width="1.3"/>
<text x="18.00" y="5.60" font-size="13.00" letter-spacing="-0.50" fill="#1c1c1c" stroke="#1c1c1c" stroke-width="0.15">热水三通阀</text>
<text x="168.00" y="4.00" font-size="13.00" letter-spacing="-1.10" fill="#1c1c1c" stroke="#1c1c1c" stroke-width="0.15">(带单向阀)</text>
<text x="16.00" y="55.00" font-size="12.50" letter-spacing="-0.50" fill="#1c1c1c" stroke="#1c1c1c" stroke-width="0.15">不锈钢过滤网</text>
<text x="16.00" y="76.70" font-size="12.50" letter-spacing="-0.50" fill="#1c1c1c" stroke="#1c1c1c" stroke-width="0.15">不锈钢波纹管</text>
<text x="438.80" y="62.25" font-size="12.50" letter-spacing="-0.25" fill="#1c1c1c" stroke="#1c1c1c" stroke-width="0.15">热水管</text>
<text x="697.40" y="104.10" font-size="12.50" letter-spacing="-0.50" fill="#1c1c1c" stroke="#1c1c1c" stroke-width="0.15">截止阀</text>
<text x="742.80" y="104.40" font-size="12.50" letter-spacing="-2.00" fill="#1c1c1c" stroke="#1c1c1c" stroke-width="0.15">气源</text>
<text x="426.80" y="207.60" font-size="12.50" letter-spacing="0.60" fill="#1c1c1c" stroke="#1c1c1c" stroke-width="0.15">冷水管</text>
<text x="657.40" y="206.20" font-size="13.00" letter-spacing="0.05" fill="#1c1c1c" stroke="#1c1c1c" stroke-width="0.15">减压阀</text>
<text x="709.00" y="205.55" font-size="13.00" letter-spacing="-0.20" fill="#1c1c1c" stroke="#1c1c1c" stroke-width="0.15">截止阀</text>
<text x="634.60" y="355.70" font-size="13.50" letter-spacing="0.90" fill="#1c1c1c" stroke="#1c1c1c" stroke-width="0.15">室内</text>
<text x="705.00" y="355.40" font-size="13.50" letter-spacing="2.00" fill="#1c1c1c" stroke="#1c1c1c" stroke-width="0.15">室外</text>
<text x="699.00" y="383.15" font-size="14.00" letter-spacing="-0.30" fill="#1c1c1c" stroke="#1c1c1c" stroke-width="0.15">排烟管</text>
<text x="469.00" y="467.60" font-size="13.50" letter-spacing="0.63" fill="#1c1c1c" stroke="#1c1c1c" stroke-width="0.15">电源插头</text>
<text x="80.80" y="532.25" font-size="13.00" letter-spacing="1.64" fill="#1c1c1c" stroke="#1c1c1c" stroke-width="0.15">最远端用水点</text>
<text x="193.00" y="532.75" font-size="13.00" letter-spacing="1.63" fill="#1c1c1c" stroke="#1c1c1c" stroke-width="0.15">主卫淋浴</text>
<text x="273.60" y="531.75" font-size="13.00" letter-spacing="2.23" fill="#1c1c1c" stroke="#1c1c1c" stroke-width="0.15">次卫淋浴</text>
<text x="333.80" y="531.75" font-size="13.00" letter-spacing="2.13" fill="#1c1c1c" stroke="#1c1c1c" stroke-width="0.15">厨房用水</text>
<text x="439.80" y="622.45" font-size="14.50" letter-spacing="-1.50" fill="#1c1c1c" stroke="#1c1c1c" stroke-width="0.15">热水管</text>
<text x="467.20" y="698.10" font-size="12.50" letter-spacing="-0.84" fill="#1c1c1c" stroke="#1c1c1c" stroke-width="0.15">不锈钢波纹管</text>
<text x="464.80" y="715.15" font-size="12.50" letter-spacing="-0.74" fill="#1c1c1c" stroke="#1c1c1c" stroke-width="0.15">不锈钢过滤网</text>
<text x="705.00" y="639.90" font-size="14.00" letter-spacing="0.70" fill="#1c1c1c" stroke="#1c1c1c" stroke-width="0.15">截止阀</text>
<text x="753.60" y="641.10" font-size="14.00" letter-spacing="0.30" fill="#1c1c1c" stroke="#1c1c1c" stroke-width="0.15">气源</text>
<text x="647.00" y="674.80" font-size="14.50" letter-spacing="-0.90" fill="#1c1c1c" stroke="#1c1c1c" stroke-width="0.15">冷水三通阀</text>
<text x="645.40" y="687.35" font-size="14.00" letter-spacing="0.64" fill="#1c1c1c" stroke="#1c1c1c" stroke-width="0.15">(带单向阀)</text>
<text x="639.20" y="763.15" font-size="13.50" letter-spacing="1.15" fill="#1c1c1c" stroke="#1c1c1c" stroke-width="0.15">减压阀</text>
<text x="690.20" y="762.20" font-size="13.50" letter-spacing="0.45" fill="#1c1c1c" stroke="#1c1c1c" stroke-width="0.15">截止阀</text>
<text x="429.00" y="763.90" font-size="14.00" letter-spacing="0.95" fill="#1c1c1c" stroke="#1c1c1c" stroke-width="0.15">冷水管</text>
<text x="319.20" y="804.65" font-size="14.00" letter-spacing="1.10" fill="#1c1c1c" stroke="#1c1c1c" stroke-width="0.15">回水管</text>
<text x="536.35" y="84.20" font-size="12.00" text-anchor="middle" fill="#1c1c1c" stroke="#1c1c1c" stroke-width="0.15">截</text>
<text x="536.35" y="96.60" font-size="12.00" text-anchor="middle" fill="#1c1c1c" stroke="#1c1c1c" stroke-width="0.15">止</text>
<text x="536.35" y="109.00" font-size="12.00" text-anchor="middle" fill="#1c1c1c" stroke="#1c1c1c" stroke-width="0.15">阀</text>
<text x="593.10" y="91.90" font-size="11.50" text-anchor="middle" fill="#1c1c1c" stroke="#1c1c1c" stroke-width="0.15">截</text>
<text x="593.10" y="104.30" font-size="11.50" text-anchor="middle" fill="#1c1c1c" stroke="#1c1c1c" stroke-width="0.15">止</text>
<text x="593.10" y="116.70" font-size="11.50" text-anchor="middle" fill="#1c1c1c" stroke="#1c1c1c" stroke-width="0.15">阀</text>
<text x="537.85" y="644.00" font-size="13.00" text-anchor="middle" fill="#1c1c1c" stroke="#1c1c1c" stroke-width="0.15">截</text>
<text x="537.85" y="656.35" font-size="13.00" text-anchor="middle" fill="#1c1c1c" stroke="#1c1c1c" stroke-width="0.15">止</text>
<text x="537.85" y="668.70" font-size="13.00" text-anchor="middle" fill="#1c1c1c" stroke="#1c1c1c" stroke-width="0.15">阀</text>
<text x="629.60" y="714.40" font-size="13.50" text-anchor="middle" fill="#1c1c1c" stroke="#1c1c1c" stroke-width="0.15">截</text>
<text x="629.60" y="726.55" font-size="13.50" text-anchor="middle" fill="#1c1c1c" stroke="#1c1c1c" stroke-width="0.15">止</text>
<text x="629.60" y="738.70" font-size="13.50" text-anchor="middle" fill="#1c1c1c" stroke="#1c1c1c" stroke-width="0.15">阀</text>
<rect x="267" y="311" width="258" height="42" rx="21" fill="#fcc98b"/>
<text x="276.00" y="339.35" font-size="23.00" letter-spacing="0.55" fill="#1e1a16" stroke="#1e1a16" stroke-width="0.25">有回水管安装示意图</text>
<circle cx="502.5" cy="331.3" r="9.2" fill="none" stroke="#1e1a16" stroke-width="1.4"/>
<path d="M497,328 L502.5,337 L508,328 L502.5,331 Z" fill="#1e1a16"/>
<defs><filter id="blur1" x="-10%" y="-10%" width="120%" height="120%"><feGaussianBlur stdDeviation="0.8"/></filter></defs>
<path d="M666,834 L667,830 Q669,824 676,822 L792,794 L792,834 Z" fill="#f6db9a" filter="url(#blur1)"/>
<path d="M700,831 L792,810" stroke="#f7dea6" stroke-width="2" filter="url(#blur1)"/>
<path d="M745,808 L792,797" stroke="#f0cd7c" stroke-width="1.5" filter="url(#blur1)"/>
</svg></body></html>
